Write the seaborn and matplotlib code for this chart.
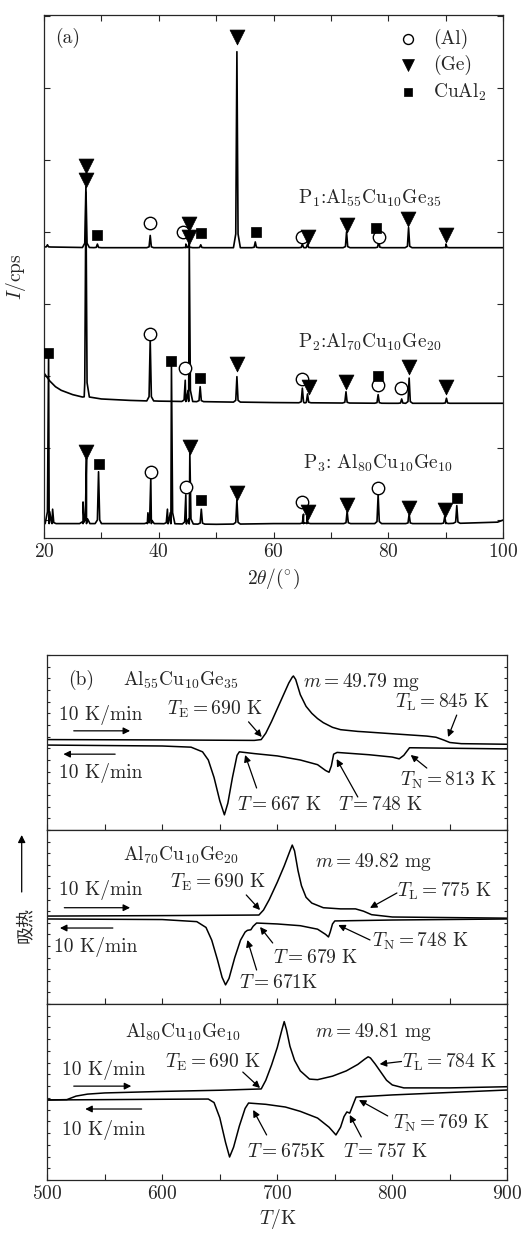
import numpy as np
import matplotlib
matplotlib.use("Agg")
import matplotlib.pyplot as plt
from matplotlib.ticker import MultipleLocator
import seaborn as sns

# ---------------- data: XRD (panel a) ----------------
p1_base_x = [20, 30, 40, 50, 60, 70, 80, 90, 100]
p1_base_y = [3.79, 3.78, 3.78, 3.78, 3.78, 3.78, 3.78, 3.78, 3.78]
p1_peak_x = [20.6, 27.3, 29.3, 38.5, 44.7, 45.3, 47.3, 53.6, 56.8, 65.0, 65.9, 72.7, 78.3, 83.5, 90.0]
p1_peak_top = [3.82, 4.63, 3.83, 3.95, 3.83, 3.85, 3.82, 6.50, 3.86, 3.83, 3.83, 4.00, 3.87, 4.06, 3.83]

p2_base_x = [20, 21, 22, 23, 25, 27, 30, 35, 40, 50, 60, 80, 100]
p2_base_y = [2.04, 1.93, 1.85, 1.80, 1.74, 1.71, 1.68, 1.66, 1.65, 1.64, 1.63, 1.62, 1.62]
p2_peak_x = [27.3, 38.5, 44.6, 45.3, 47.2, 53.6, 65.0, 65.9, 72.6, 78.2, 82.3, 83.6, 90.1]
p2_peak_top = [4.55, 2.50, 1.94, 3.85, 1.85, 1.99, 1.83, 1.75, 1.78, 1.74, 1.68, 1.97, 1.69]

p3_base_x = [20, 30, 40, 50, 60, 70, 80, 90, 99, 100]
p3_base_y = [-0.05, -0.05, -0.05, -0.06, -0.05, -0.05, -0.05, -0.05, -0.03, 0.0]
p3_peak_x = [20.8, 21.5, 26.8, 27.4, 29.5, 38.1, 38.6, 41.5, 42.2, 44.7, 45.4, 47.4, 53.6,
             65.2, 65.8, 72.8, 78.2, 83.6, 89.8, 91.9]
p3_peak_top = [2.30, 0.15, 0.25, 0.86, 0.67, 0.10, 0.58, 0.15, 2.14, 0.35, 0.93, 0.15, 0.28,
               0.08, 0.05, 0.12, 0.35, 0.08, 0.05, 0.20]

al_x = [38.5, 44.2, 64.9, 78.3, 38.5, 44.6, 64.9, 78.1, 82.2, 38.6, 44.7, 65.0, 78.2]
al_y = [4.125, 4.00, 3.93, 3.93, 2.58, 2.11, 1.96, 1.88, 1.83, 0.67, 0.46, 0.25, 0.44]
ge_x = [27.3, 27.3, 53.6, 45.3, 45.3, 66.0, 72.7, 83.4, 90.0,
        53.6, 66.1, 72.6, 83.6, 90.1,
        27.4, 45.4, 53.6, 66.0, 72.8, 83.6, 89.8]
ge_y = [4.92, 4.72, 6.71, 4.11, 3.93, 3.93, 4.10, 4.18, 3.96,
        2.17, 1.85, 1.92, 2.13, 1.85,
        0.94, 1.01, 0.38, 0.11, 0.21, 0.17, 0.14]
cu_x = [29.3, 47.4, 56.9, 77.8, 47.2, 78.1, 20.75, 42.2, 29.5, 47.4, 91.9]
cu_y = [3.96, 3.99, 4.00, 4.06, 1.97, 2.00, 2.32, 2.21, 0.78, 0.28, 0.31]

xrd_labels = [r"P$_1$:Al$_{55}$Cu$_{10}$Ge$_{35}$",
              r"P$_2$:Al$_{70}$Cu$_{10}$Ge$_{20}$",
              r"P$_3$: Al$_{80}$Cu$_{10}$Ge$_{10}$"]
legend_labels = ["(Al)", "(Ge)", r"CuAl$_2$"]
xrd_xticks = [20, 40, 60, 80, 100]

# ---------------- data: DSC (panel b) ----------------
h1_T = [500, 600, 680, 686, 690, 695, 700, 705, 710, 713, 714, 716, 720, 725, 730, 735, 740, 748,
        755, 770, 775, 800, 830, 838, 845, 850, 860, 900]
h1_y = [7.75, 7.72, 7.68, 7.75, 8.3, 9.3, 10.4, 11.5, 12.6, 13.1, 13.2, 12.9, 11.6, 10.6, 10.0,
        9.55, 9.2, 8.8, 8.6, 8.45, 8.42, 8.25, 8.05, 7.95, 7.7, 7.5, 7.4, 7.35]
c1_T = [500, 600, 625, 635, 640, 645, 650, 654, 657, 661, 665, 667, 680, 700, 720, 735, 742, 745,
        747, 749, 752, 780, 800, 806, 810, 815, 900]
c1_y = [7.28, 7.2, 7.1, 6.7, 6.0, 4.5, 2.5, 1.3, 2.3, 4.5, 6.4, 6.7, 6.55, 6.35, 6.0, 5.6, 5.1,
        4.95, 5.5, 6.5, 6.65, 6.45, 6.25, 6.1, 6.4, 7.05, 6.95]

h2_T = [500, 600, 684, 688, 693, 700, 706, 711, 713, 715, 718, 721, 725, 730, 740, 755, 768, 775,
        782, 800, 900]
h2_y = [7.58, 7.62, 7.67, 8.1, 9.0, 10.5, 11.9, 13.2, 13.7, 13.2, 11.5, 10.2, 9.2, 8.7, 8.3, 8.2,
        8.2, 8.0, 7.7, 7.5, 7.4]
c2_T = [500, 600, 630, 638, 643, 648, 652, 655, 658, 663, 668, 672, 674, 677, 679, 682, 700, 720,
        735, 742, 744.5, 746, 748, 750, 800, 900]
c2_y = [7.33, 7.28, 7.1, 6.6, 5.5, 3.8, 2.3, 1.65, 2.2, 4.0, 5.5, 6.2, 6.35, 6.4, 6.7, 6.98, 6.9,
        6.75, 6.45, 6.0, 5.78, 6.2, 6.9, 7.16, 7.24, 7.33]

h3_T = [500, 517, 525, 535, 550, 600, 650, 686, 690, 695, 700, 704, 706, 708, 711, 715, 720, 728,
        735, 748, 760, 770, 776, 779, 781, 785, 790, 795, 800, 810, 850, 900]
h3_y = [6.82, 6.85, 7.15, 7.32, 7.42, 7.55, 7.65, 7.76, 8.5, 9.8, 11.3, 12.8, 13.5, 12.8, 11.4,
        10.2, 9.3, 8.6, 8.55, 8.85, 9.3, 9.85, 10.3, 10.5, 10.4, 9.9, 9.2, 8.5, 8.1, 7.85, 7.85, 7.95]
c3_T = [500, 600, 640, 645, 650, 655, 658.5, 662, 667, 672, 675, 690, 707, 720, 735, 745, 751, 755,
        758, 760.5, 763, 765, 768.5, 800, 900]
c3_y = [6.82, 6.88, 6.9, 6.6, 5.3, 3.2, 1.96, 2.8, 4.6, 6.1, 6.56, 6.45, 6.22, 5.85, 5.28, 4.5,
        3.84, 4.5, 5.4, 5.8, 5.7, 6.2, 7.07, 7.25, 7.67]

alloys = [r"Al$_{55}$Cu$_{10}$Ge$_{35}$", r"Al$_{70}$Cu$_{10}$Ge$_{20}$", r"Al$_{80}$Cu$_{10}$Ge$_{10}$"]
masses = [r"$m = 49.79$ mg", r"$m = 49.82$ mg", r"$m = 49.81$ mg"]
rate = "10 K/min"
dsc_xticks = [500, 600, 700, 800, 900]

# ---------------- style ----------------
sns.set_style("ticks")
plt.rcParams.update({
    "font.family": "serif",
    "font.serif": ["cmr10", "DejaVu Serif"],
    "mathtext.fontset": "cm",
    "axes.formatter.use_mathtext": True,
    "axes.linewidth": 0.9,
    "xtick.direction": "in",
    "ytick.direction": "in",
    "axes.unicode_minus": False,
})

fs = 14
W, H = 532, 1233
fig = plt.figure(figsize=(W / 100, H / 100), dpi=100)


def fr(left, top, right, bottom):
    return [left / W, 1 - bottom / H, (right - left) / W, (bottom - top) / H]


def xrd_curve(bx, by, px, pt):
    xs = list(bx)
    ys = list(by)
    for x0, top in zip(px, pt):
        b = np.interp(x0, bx, by)
        h = top - b
        xs += [x0 - 0.6, x0 - 0.2, x0, x0 + 0.2, x0 + 0.6]
        ys += [b, b + 0.07 * h, top, b + 0.07 * h, b]
    order = np.argsort(xs, kind="stable")
    return np.array(xs)[order], np.array(ys)[order]


# ---------------- panel (a) ----------------
axa = fig.add_axes(fr(44, 15, 503.3, 538))
for bx, by, px, pt in [(p3_base_x, p3_base_y, p3_peak_x, p3_peak_top),
                       (p2_base_x, p2_base_y, p2_peak_x, p2_peak_top),
                       (p1_base_x, p1_base_y, p1_peak_x, p1_peak_top)]:
    xs, ys = xrd_curve(bx, by, px, pt)
    sns.lineplot(x=xs, y=ys, sort=False, estimator=None, color="black", lw=1.2, ax=axa)

sns.scatterplot(x=al_x, y=al_y, marker="o", s=80, color="white", edgecolor="black",
                linewidth=1.0, zorder=5, ax=axa, label=legend_labels[0])
sns.scatterplot(x=ge_x, y=ge_y, marker="v", s=115, color="black", edgecolor="black",
                linewidth=0.5, zorder=5, ax=axa, label=legend_labels[1])
sns.scatterplot(x=cu_x, y=cu_y, marker="s", s=60, color="black", edgecolor="black",
                linewidth=0.5, zorder=5, ax=axa, label=legend_labels[2])
axa.legend(loc="upper right", bbox_to_anchor=(0.99, 0.995), frameon=False, fontsize=fs,
           markerscale=0.8, handletextpad=0.5, labelspacing=0.3, borderaxespad=0.2,
           handlelength=1.6)

axa.text(21.9, 6.69, "(a)", fontsize=fs, ha="left", va="center")
axa.text(64.3, 4.47, xrd_labels[0], fontsize=fs, ha="left", va="center")
axa.text(64.3, 2.46, xrd_labels[1], fontsize=fs, ha="left", va="center")
axa.text(65.1, 0.78, xrd_labels[2], fontsize=fs, ha="left", va="center")

axa.set_xlim(20, 100)
axa.set_ylim(-0.25, 7.01)
axa.set_xticks(xrd_xticks)
axa.xaxis.set_minor_locator(MultipleLocator(10))
axa.yaxis.set_major_locator(MultipleLocator(1))
axa.tick_params(axis="both", which="both", top=True, right=True, length=4, width=0.8,
                labelsize=fs)
axa.tick_params(axis="y", labelleft=False)
axa.set_xlabel(r"$2\theta/(^{\circ})$", fontsize=fs, labelpad=4)
axa.set_ylabel(r"$I$/cps", fontsize=fs)
axa.yaxis.set_label_coords(-0.034, 0.5)

# ---------------- panel (b) ----------------
rects = [(655, 830), (830, 1004), (1004, 1180)]
curves = [(h1_T, h1_y, c1_T, c1_y), (h2_T, h2_y, c2_T, c2_y), (h3_T, h3_y, c3_T, c3_y)]
axes_b = []
for i, ((top, bot), (hT, hy, cT, cy)) in enumerate(zip(rects, curves)):
    ax = fig.add_axes(fr(47.3, top, 507.3, bot))
    sns.lineplot(x=hT, y=hy, sort=False, estimator=None, color="black", lw=1.1, ax=ax)
    sns.lineplot(x=cT, y=cy, sort=False, estimator=None, color="black", lw=1.1, ax=ax)
    ax.set_xlim(500, 900)
    ax.set_ylim(0, 15)
    ax.set_xticks(dsc_xticks)
    ax.xaxis.set_minor_locator(MultipleLocator(50))
    ax.yaxis.set_major_locator(MultipleLocator(1))
    ax.tick_params(axis="both", which="both", length=4, width=0.8, right=True, top=False,
                   labelleft=False, labelsize=fs)
    ax.tick_params(axis="y", length=2.5)
    if i < 2:
        ax.tick_params(axis="x", labelbottom=False)
    axes_b.append(ax)

arrow_kw = dict(arrowstyle="-|>", color="black", lw=0.9, mutation_scale=10, shrinkA=0, shrinkB=0)


def arrow(ax, tail, tip):
    ax.annotate("", xy=tip, xytext=tail, arrowprops=arrow_kw)


def txt(ax, x, y, s):
    ax.text(x, y, s, fontsize=fs, ha="left", va="center")


# b1
ax = axes_b[0]
txt(ax, 518, 12.85, "(b)")
txt(ax, 566, 12.85, alloys[0])
txt(ax, 722.5, 12.7, masses[0])
txt(ax, 510, 9.85, rate)
arrow(ax, (523, 8.5), (572, 8.5))
txt(ax, 604, 10.37, r"$T_{\rm E} = 690$ K")
arrow(ax, (675, 9.27), (686.5, 7.97))
txt(ax, 802, 10.9, r"$T_{\rm L} = 845$ K")
arrow(ax, (856, 9.85), (848.5, 7.97))
arrow(ax, (559, 6.5), (514, 6.5))
txt(ax, 510, 4.88, rate)
txt(ax, 664.7, 2.14, r"$T = 667$ K")
arrow(ax, (682, 3.6), (672, 6.43))
txt(ax, 753, 2.14, r"$T = 748$ K")
arrow(ax, (770, 2.83), (751.6, 6.08))
txt(ax, 806.7, 4.28, r"$T_{\rm N} = 813$ K")
arrow(ax, (830, 5.31), (816, 6.43))

# b2
ax = axes_b[1]
txt(ax, 566, 12.8, alloys[1])
txt(ax, 733, 12.2, masses[1])
txt(ax, 510, 9.8, rate)
arrow(ax, (514.8, 8.3), (572, 8.3))
txt(ax, 607, 10.5, r"$T_{\rm E} = 690$ K")
arrow(ax, (673, 9.4), (685, 8.1))
txt(ax, 804, 9.74, r"$T_{\rm L} = 775$ K")
arrow(ax, (804, 9.57), (780.6, 8.28))
arrow(ax, (557, 6.55), (511, 6.55))
txt(ax, 506, 4.9, rate)
txt(ax, 667, 1.81, r"$T = 671$K")
arrow(ax, (682, 2.93), (674, 5.52))
txt(ax, 696, 3.97, r"$T = 679$ K")
arrow(ax, (696, 5.26), (685, 6.64))
txt(ax, 782, 5.43, r"$T_{\rm N} = 748$ K")
arrow(ax, (780.6, 5.52), (753, 6.81))

# b3
ax = axes_b[2]
txt(ax, 567.6, 12.6, alloys[2])
txt(ax, 733, 12.6, masses[2])
txt(ax, 513, 9.38, rate)
arrow(ax, (523, 8.0), (573, 8.0))
txt(ax, 602, 10.06, r"$T_{\rm E} = 690$ K")
arrow(ax, (670, 9.2), (685, 7.84))
txt(ax, 808, 10.06, r"$T_{\rm L} = 784$ K")
arrow(ax, (808, 10.1), (789, 9.88))
arrow(ax, (582, 6.05), (533, 6.05))
txt(ax, 513, 4.26, rate)
txt(ax, 673.7, 2.39, r"$T = 675$K")
arrow(ax, (690.7, 3.84), (679, 5.97))
txt(ax, 757.5, 2.39, r"$T = 757$ K")
arrow(ax, (773, 3.67), (763, 5.54))
txt(ax, 800.7, 4.86, r"$T_{\rm N} = 769$ K")
arrow(ax, (796, 5.46), (771, 6.82))
ax.set_xlabel(r"$T$/K", fontsize=fs, labelpad=3)

# y-label for panel b: arrow + Chinese text
fig.text(25 / W, 1 - 925 / H, "吸热", rotation=90, ha="center", va="center", fontsize=13,
         family=["Noto Sans CJK SC", "DejaVu Sans"])
axes_b[1].annotate("", xy=(21.7 / W, 1 - 835 / H), xytext=(21.7 / W, 1 - 892 / H),
                   xycoords="figure fraction", textcoords="figure fraction",
                   arrowprops=dict(arrowstyle="-|>", color="black", lw=0.9, mutation_scale=11,
                                   shrinkA=0, shrinkB=0))

fig.savefig("out.png", dpi=100)
